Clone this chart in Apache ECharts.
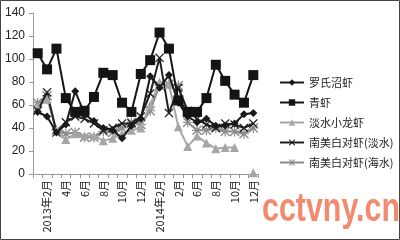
<!DOCTYPE html>
<html><head><meta charset="utf-8">
<script src="https://cdn.jsdelivr.net/npm/echarts@6/dist/echarts.min.js"></script>
<style>html,body{margin:0;padding:0;background:#fff}#c{width:400px;height:240px}</style>
</head><body><div id="c"></div>
<script>
var categories = ['2013年1月','2013年2月','3月','4月','5月','6月','7月','8月','9月','10月','11月','12月',
  '2014年1月','2014年2月','3月','2月','5月','6月','7月','8月','9月','10月','11月','12月'];
var yTicks = [0,20,40,60,80,100,120,140];
var luoshi = [54,50,36,43,72,52,46,40,38,31,42,48,85,75,86,62,50,45,48,42,42,44,52,53];
var qingxia = [105,91,109,66,54,55,67,88,86,62,54,87,99,123,109,64,54,54,66,95,81,69,62,86];
var xiaolongxia = [58,65,38,30,35,33,33,29,31,35,38,40,60,80,78,41,24,33,27,22,23,23,null,1];
var baiDan = [55,71,36,45,50,48,44,38,40,44,44,50,70,101,53,75,55,48,43,40,44,43,40,44];
var baiHai = [62,68,38,35,36,32,32,37,36,40,45,43,55,77,78,77,45,38,38,40,37,37,35,40];

var xPath = 'path://M0,1L1,0L5,4L9,0L10,1L6,5L10,9L9,10L5,6L1,10L0,9L4,5Z';
var starPath = 'path://M0,1L1,0L5,4L9,0L10,1L6,5L10,9L9,10L5,6L1,10L0,9L4,5ZM4.4,0L5.6,0L5.6,10L4.4,10ZM0,4.4L10,4.4L10,5.6L0,5.6Z';

function mk(name, data, color, symbol, size, z) {
  return {name:name, type:'line', data:data, symbol:symbol, symbolSize:size, z:z,
    showAllSymbol:true, connectNulls:false, animation:false,
    lineStyle:{color:color, width:2}, itemStyle:{color:color}};
}
var chart = echarts.init(document.getElementById('c'));
chart.setOption({
  animation:false,
  textStyle:{fontFamily:'Liberation Sans, "Noto Sans CJK SC", sans-serif'},
  graphic:[
    {type:'rect', shape:{x:0.5,y:0.5,width:399,height:239}, style:{fill:'none', stroke:'#444', lineWidth:1}, z:100},
    {type:'text', x:262, y:190, scaleX:0.76, style:{text:'cctvny.cn', fill:'#f28a6e', font:'bold 40px "Liberation Sans", sans-serif'}, z:100}
  ],
  grid:{left:33, right:142, top:13, bottom:66},
  legend:{orient:'vertical', left:274, top:72, itemWidth:24, itemHeight:8, itemGap:9,
    textStyle:{fontSize:11, color:'#222', fontFamily:'"Noto Sans CJK SC", sans-serif'},
    data:['罗氏沼虾','青虾','淡水小龙虾','南美白对虾(淡水)','南美白对虾(海水)']},
  xAxis:{type:'category', data:categories, boundaryGap:true,
    axisLine:{lineStyle:{color:'#999'}},
    axisTick:{show:true, interval:0, length:4, lineStyle:{color:'#999'}},
    axisLabel:{rotate:90, interval:function(i){return i%2===1;}, fontSize:11, color:'#222', margin:6,
      fontFamily:'"Noto Sans CJK SC", sans-serif'}},
  yAxis:{type:'value', min:0, max:140, interval:20,
    axisLine:{show:true, lineStyle:{color:'#999'}},
    axisTick:{show:true, length:4, lineStyle:{color:'#999'}},
    splitLine:{show:false},
    axisLabel:{fontSize:12, color:'#222', margin:8, formatter:function(v){return yTicks.indexOf(v)>=0?String(v):'';}}},
  series:[
    mk('罗氏沼虾', luoshi, '#1a1a1a', 'diamond', 8, 3),
    mk('青虾', qingxia, '#141414', 'rect', 10, 4),
    mk('淡水小龙虾', xiaolongxia, '#a6a6a6', 'triangle', 9, 2),
    mk('南美白对虾(淡水)', baiDan, '#202020', xPath, 9, 2),
    mk('南美白对虾(海水)', baiHai, '#8c8c8c', starPath, 10, 1)
  ]
});
</script></body></html>
